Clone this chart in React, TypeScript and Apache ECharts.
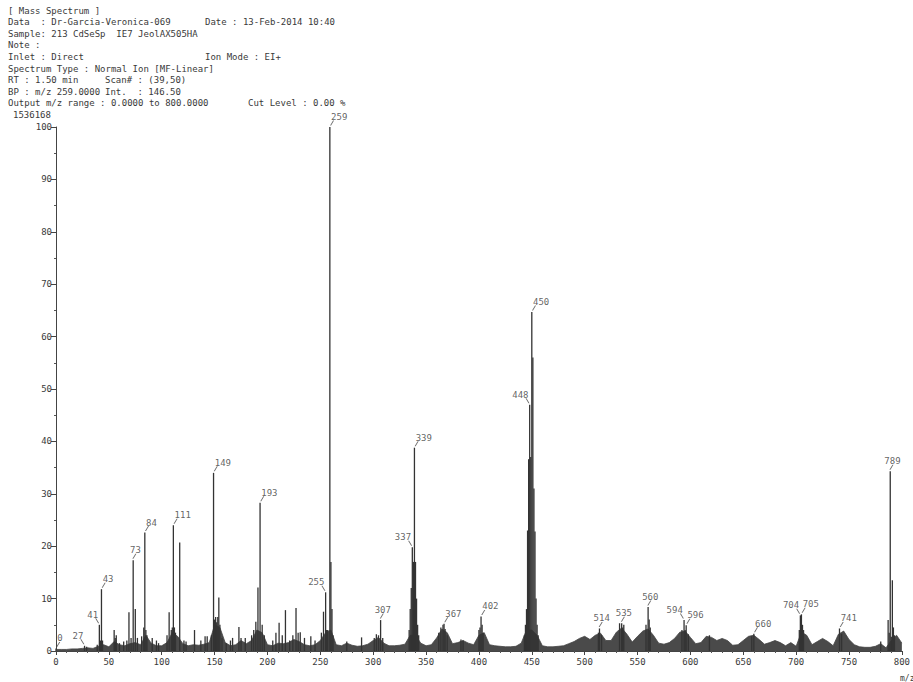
import React, { useEffect, useRef } from "react";
import * as echarts from "echarts";

// ---------- header text ----------
const headerLeft: string[] = [
  "[ Mass Spectrum ]",
  "Data  : Dr-Garcia-Veronica-069",
  "Sample: 213 CdSeSp  IE7 JeolAX505HA",
  "Note :",
  "Inlet : Direct",
  "Spectrum Type : Normal Ion [MF-Linear]",
  "RT : 1.50 min",
  "BP : m/z 259.0000",
  "Output m/z range : 0.0000 to 800.0000",
];
const headerRight: string[] = ["", "Date : 13-Feb-2014 10:40", "", "", "Ion Mode : EI+", "", "Scan# : (39,50)", "Int.  : 146.50", "Cut Level : 0.00 %"];
const fullScaleText = "1536168";
const xAxisName = "m/z";

// ---------- axes ----------
const xMin = 0;
const xMax = 800;
const xStep = 50;
const yMin = 0;
const yMax = 100;
const yStep = 10;

// ---------- background "grass" envelope, sampled every 5 m/z from 0 to 800 ----------
const grassStep = 5;
const grassValues: number[] = [
  0.3, 0.3, 0.3, 0.4, 0.4, 0.5, 0.6, 0.5, 0.9, 1.2, // 0-45
  0.8, 1.8, 1.2, 1.0, 1.4, 1.6, 1.2, 3.0, 1.5, 1.0, // 50-95
  1.0, 1.6, 3.5, 2.8, 1.4, 1.0, 1.2, 1.1, 1.3, 1.6, // 100-145
  5.0, 4.5, 1.6, 1.0, 1.2, 2.0, 1.4, 2.0, 4.0, 3.5, // 150-195
  1.2, 1.0, 1.5, 1.4, 1.6, 2.2, 1.8, 1.2, 1.0, 1.2, // 200-245
  2.0, 3.5, 4.0, 1.2, 1.0, 1.5, 1.1, 0.9, 1.0, 1.3, // 250-295
  2.0, 2.6, 1.5, 1.0, 1.0, 1.1, 1.3, 3.0, 3.0, 1.5, // 300-345
  1.0, 1.2, 2.5, 4.2, 3.5, 1.4, 1.6, 2.0, 1.5, 1.2, // 350-395
  3.0, 3.5, 1.2, 1.0, 0.9, 0.8, 0.8, 0.9, 1.5, 4.0, // 400-445
  4.0, 3.0, 1.0, 0.8, 0.8, 0.9, 1.0, 1.4, 1.8, 2.4, // 450-495
  2.8, 2.2, 3.0, 3.4, 2.0, 2.0, 3.6, 4.4, 3.2, 1.7, // 500-545
  2.8, 3.8, 4.2, 3.0, 1.5, 1.3, 1.6, 2.4, 3.6, 3.8, // 550-595
  2.6, 1.4, 1.6, 2.8, 2.6, 2.0, 2.4, 2.0, 1.1, 1.2, // 600-645
  2.0, 2.8, 3.0, 2.2, 1.3, 1.6, 2.0, 1.6, 1.0, 1.6, // 650-695
  0.9, 3.6, 3.0, 1.2, 1.8, 2.4, 1.8, 1.0, 3.2, 3.8, // 700-745
  2.2, 1.2, 0.8, 0.7, 0.7, 0.9, 1.4, 0.6, 2.0, 3.0, // 750-795
  1.5, // 800
];

// ---------- individual peaks (m/z, relative intensity %) ----------
const peakMz: number[] = [
  0, 27, 29, 39, 41, 42, 43, 44, 55, 56, 57, 60, 64, 67, 69, 71, 73, 75, 77, 81, 83, 84, 85, 86, 91, 95, 97,
  105, 107, 109, 110, 111, 112, 113, 117, 121, 123, 131, 137, 141, 143, 147, 149, 150, 151, 152, 153, 154, 155, 157,
  161, 165, 167, 173, 175, 179, 185, 187, 189, 191, 193, 195, 197, 205, 208, 211, 214, 217, 221, 224, 227, 229, 231,
  235, 241, 245, 251, 253, 255, 256, 257, 259, 260, 261, 262, 275, 289, 301, 303, 305, 307, 309,
  334, 335, 336, 337, 338, 339, 340, 341, 342, 343, 362, 364, 366, 367, 368, 370, 383, 385,
  400, 401, 402, 403, 404, 443, 444, 445, 446, 447, 448, 449, 450, 451, 452, 453, 454, 455, 456,
  513, 514, 516, 533, 535, 536, 537, 558, 560, 561, 562, 592, 594, 595, 596, 598, 618, 658, 660,
  703, 704, 705, 706, 707, 741, 743, 780, 787, 788, 789, 790, 791, 792, 793,
];
const peakInt: number[] = [
  0.5, 1.0, 0.8, 1.2, 5.0, 2.0, 11.8, 2.0, 4.0, 2.5, 3.0, 1.5, 1.8, 2.0, 7.4, 2.5, 17.3, 8.0, 2.5, 2.8, 4.5, 22.6, 4.0, 3.0, 2.5, 2.0, 1.5,
  3.0, 7.4, 4.0, 4.5, 24.0, 4.5, 3.5, 20.7, 2.0, 1.8, 4.0, 2.0, 2.8, 2.8, 3.0, 34.0, 6.0, 6.5, 5.5, 6.5, 10.2, 5.0, 2.5,
  1.5, 2.0, 2.5, 4.6, 2.5, 2.5, 3.0, 4.0, 5.6, 12.1, 28.3, 5.0, 3.0, 2.0, 3.5, 5.4, 3.0, 7.8, 2.0, 3.0, 8.2, 3.5, 3.6,
  2.5, 2.8, 2.0, 3.5, 7.5, 11.2, 4.0, 4.0, 100, 17.0, 8.0, 3.0, 1.8, 2.6, 2.5, 3.2, 3.0, 5.9, 2.5,
  4.0, 8.0, 12.0, 19.8, 17.0, 38.8, 17.0, 10.0, 5.0, 3.0, 3.5, 4.5, 5.0, 5.2, 4.2, 3.0, 2.2, 2.0,
  4.0, 4.5, 6.6, 5.0, 3.5, 3.0, 5.0, 8.0, 23.0, 36.6, 47.0, 37.0, 64.7, 56.0, 31.0, 22.8, 10.0, 5.0, 3.0,
  3.5, 4.3, 3.0, 5.3, 5.3, 4.5, 5.0, 5.0, 8.4, 6.0, 4.5, 4.0, 5.9, 4.0, 4.9, 3.2, 3.0, 2.8, 3.3,
  4.0, 6.8, 7.0, 5.0, 4.0, 4.3, 3.3, 1.8, 5.9, 3.5, 34.3, 2.7, 13.5, 4.5, 3.0,
];

// ---------- labelled peaks ----------
const labelMz: number[] = [0, 27, 41, 43, 73, 84, 111, 149, 193, 255, 259, 307, 337, 339, 367, 402, 448, 450, 514, 535, 560, 594, 596, 660, 704, 705, 741, 789];
const labelSide: string[] = ["R", "L", "L", "R", "C", "R", "R", "R", "R", "L", "R", "C", "L", "R", "R", "R", "L", "R", "C", "C", "C", "L", "R", "R", "L", "R", "R", "C"];

const FONT = "DejaVu Sans Mono";
const TXT = "#3a3a3a";
const INK = "#333333";

export default function App() {
  const ref = useRef<HTMLDivElement>(null);

  useEffect(() => {
    if (!ref.current) return;
    const chart = echarts.init(ref.current, undefined, { renderer: "svg" });

    const grassData = grassValues.map((v, i) => [i * grassStep, v]);
    const peakData = peakMz.map((m, i) => [m, peakInt[i]]);
    const intOf = (m: number) => {
      const k = peakMz.indexOf(m);
      return k >= 0 ? peakInt[k] : 0;
    };
    const charW = 5.42;
    const labelData = labelMz.map((m, i) => {
      const side = labelSide[i];
      const w = String(m).length * charW;
      let symbol = "path://M0,4L3,0L4,0L1,4Z";
      let sx = 2.2;
      let lx = w / 2 - 1;
      if (side === "L") {
        symbol = "path://M0,0L1,0L4,4L3,4Z";
        sx = -2.2;
        lx = -w / 2 + 1;
      } else if (side === "C") {
        symbol = "path://M0,4L3,0L4,0L1,4Z";
        sx = 1.2;
        lx = 1;
      }
      return {
        value: [m, intOf(m)],
        symbol,
        symbolOffset: [sx, -4],
        label: { offset: [lx, 1] },
      };
    });

    const rowY = (r: number) => 11 + r * 11.6;
    const rightX = [0, 205, 0, 0, 205, 0, 105, 105, 248];
    const graphics: any[] = [];
    headerLeft.forEach((t, r) => {
      graphics.push({
        type: "text",
        left: 8,
        top: rowY(r) - 5,
        style: { text: t, fill: TXT, font: `9px "${FONT}"` },
      });
      if (headerRight[r]) {
        graphics.push({
          type: "text",
          left: rightX[r],
          top: rowY(r) - 5,
          style: { text: headerRight[r], fill: TXT, font: `9px "${FONT}"` },
        });
      }
    });
    graphics.push({
      type: "text",
      left: 13,
      top: rowY(9) - 5,
      style: { text: fullScaleText, fill: TXT, font: `9px "${FONT}"` },
    });
    graphics.push({
      type: "text",
      left: 900,
      top: 674,
      style: { text: xAxisName, fill: TXT, font: `8px "${FONT}"` },
    });

    chart.setOption({
      animation: false,
      backgroundColor: "#ffffff",
      grid: { left: 56, right: 6, top: 127, bottom: 31, containLabel: false },
      graphic: graphics,
      xAxis: {
        type: "value",
        min: xMin,
        max: xMax,
        interval: xStep,
        axisLine: { show: true, onZero: false, lineStyle: { color: "#444", width: 1 } },
        axisTick: { show: true, length: 4, lineStyle: { color: "#444" } },
        minorTick: { show: true, splitNumber: 5, length: 2, lineStyle: { color: "#555" } },
        splitLine: { show: false },
        axisLabel: { color: TXT, fontFamily: FONT, fontSize: 9, margin: 6, showMaxLabel: true, showMinLabel: true },
      },
      yAxis: {
        type: "value",
        min: yMin,
        max: yMax,
        interval: yStep,
        axisLine: { show: true, onZero: false, lineStyle: { color: "#444", width: 1 } },
        axisTick: { show: true, length: 5, lineStyle: { color: "#444" } },
        minorTick: { show: true, splitNumber: 2, length: 2, lineStyle: { color: "#555" } },
        splitLine: { show: false },
        axisLabel: { color: TXT, fontFamily: FONT, fontSize: 9, margin: 4 },
      },
      series: [
        {
          type: "line",
          data: grassData,
          showSymbol: false,
          symbol: "none",
          smooth: false,
          lineStyle: { color: "#444", width: 0.8 },
          areaStyle: { color: "#4a4a4a", opacity: 1 },
          silent: true,
          z: 2,
        },
        {
          type: "bar",
          data: peakData,
          barWidth: 1.3,
          itemStyle: { color: INK },
          silent: true,
          z: 3,
        },
        {
          type: "scatter",
          data: labelData,
          symbolSize: [4, 5],
          itemStyle: { color: "#444" },
          label: {
            show: true,
            position: "top",
            distance: 0,
            formatter: (p: any) => String(p.value[0]),
            color: TXT,
            fontFamily: FONT,
            fontSize: 9,
          },
          silent: true,
          z: 4,
        },
      ],
    });

    return () => chart.dispose();
  }, []);

  return <div ref={ref} style={{ position: "fixed", left: 0, top: 0, width: 913, height: 682 }} />;
}
